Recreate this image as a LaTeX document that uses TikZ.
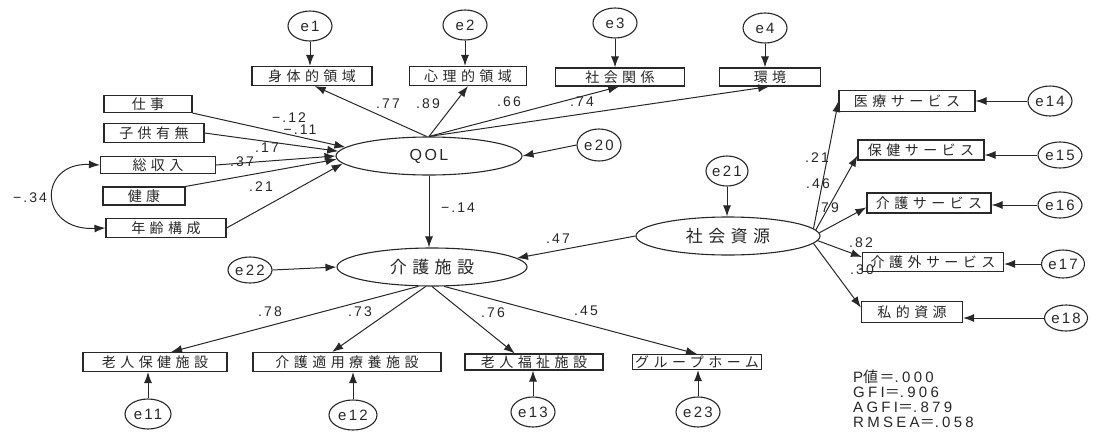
\documentclass[tikz,border=0pt]{standalone}
\usepackage{fontspec}
\setmainfont{Liberation Sans}[LetterSpace=15]
\newfontfamily\jp{Noto Sans CJK JP}[LetterSpace=32]
\newfontfamily\stfont{Liberation Sans}[LetterSpace=22]
\newfontfamily\jps{Noto Sans CJK JP}[LetterSpace=10]
\usetikzlibrary{shapes.geometric,arrows.meta}
\definecolor{ink}{RGB}{40,40,40}
\tikzset{
  box/.style={draw=ink, line width=1.1pt, minimum height=19pt, inner sep=0pt, text=ink,
    font=\jp\fontsize{14}{14}\selectfont},
  lat/.style={draw=ink, ellipse, line width=1.1pt, inner sep=0pt, text=ink},
  err/.style={draw=ink, ellipse, line width=1.1pt, minimum width=44pt, minimum height=30pt,
    inner sep=0pt, text=ink, font=\fontsize{15}{15}\selectfont},
  arr/.style={draw=ink, line width=1pt, -{Latex[length=11pt,width=8pt]}},
  dbl/.style={draw=ink, line width=1pt, {Latex[length=11pt,width=8pt]}-{Latex[length=11pt,width=8pt]}},
  lbl/.style={inner sep=0pt, text=ink, font=\fontsize{14}{14}\selectfont},
  stat/.style={inner sep=0pt, text=ink, anchor=north west, align=left,
    font=\stfont\fontsize{15}{15}\selectfont}
}
\begin{document}
\begin{tikzpicture}[x=1pt,y=-1pt]
\fill[white] (0,0) rectangle (1094,431);
\useasboundingbox (0,0) rectangle (1094,431);

% top indicators
\node[err] (e1) at (310,26) {e1};
\node[err] (e2) at (465,25) {e2};
\node[err] (e3) at (615,23) {e3};
\node[err] (e4) at (765,28) {e4};
\node[box, minimum width=120pt] (shintai) at (312,76) {身体的領域};
\node[box, minimum width=117pt] (shinri) at (468,76) {心理的領域};
\node[box, minimum width=129pt, minimum height=18pt] (kankei) at (620,77) {社会関係};
\node[box, minimum width=101pt, minimum height=18pt] (kankyo) at (770,77) {環境};

% left exogenous
\node[box, minimum width=88pt, minimum height=17pt] (shigoto) at (148,104) {仕事};
\node[box, minimum width=100pt] (kodomo) at (154,133) {子供有無};
\node[box, minimum width=115pt, minimum height=17pt] (soshu) at (158,165) {総収入};
\node[box, minimum width=82pt, minimum height=18pt] (kenko) at (144,196) {健康};
\node[box, minimum width=120pt] (nenrei) at (166,228) {年齢構成};

% latent
\node[lat, minimum width=186pt, minimum height=38pt, font=\fontsize{16}{16}\selectfont] (qol) at (429,156) {QOL};
\node[lat, minimum width=184pt, minimum height=38pt, font=\jp\fontsize{17}{17}\selectfont] (shakai) at (728,236) {社会資源};
\node[lat, minimum width=190pt, minimum height=38pt, font=\jp\fontsize{17}{17}\selectfont] (kaigo) at (432,267) {介護施設};
\node[err, minimum height=32pt] (e20) at (599,145) {e20};
\node[err, minimum width=42pt] (e21) at (727,171) {e21};
\node[err, minimum width=44pt, minimum height=26pt] (e22) at (250,270) {e22};

% bottom indicators
\node[box, minimum width=144pt] (rojin) at (155,362) {老人保健施設};
\node[box, minimum width=188pt] (tekiyo) at (347,362) {介護適用療養施設};
\node[box, minimum width=138pt, minimum height=16pt] (fukushi) at (534,362) {老人福祉施設};
\node[box, minimum width=129pt, minimum height=15pt] (group) at (697,362) {グループホーム};
\node[err, minimum width=46pt] (e11) at (148,414) {e11};
\node[err, minimum width=48pt] (e12) at (353,415) {e12};
\node[err, minimum width=44pt] (e13) at (533,412) {e13};
\node[err, minimum width=44pt] (e23) at (698,412) {e23};

% right indicators
\node[box, minimum width=136pt, minimum height=21pt] (iryo) at (907,101) {医療サービス};
\node[box, minimum width=126pt, minimum height=20pt] (hoken) at (921,150) {保健サービス};
\node[box, minimum width=124pt, minimum height=20pt] (kaigos) at (929,203) {介護サービス};
\node[box, minimum width=141pt, minimum height=19pt] (kaigogai) at (933,262) {介護外サービス};
\node[box, minimum width=101pt, minimum height=21pt] (shiteki) at (912,312) {私的資源};
\node[err] (e14) at (1050,101) {e14};
\node[err, minimum height=26pt] (e15) at (1060,155) {e15};
\node[err, minimum height=26pt] (e16) at (1060,205) {e16};
\node[err, minimum width=43pt, minimum height=28pt] (e17) at (1063,264) {e17};
\node[err, minimum width=43pt, minimum height=26pt] (e18) at (1066,318) {e18};

% error arrows
\draw[arr] (e1.south) -- (e1.south |- shintai.north);
\draw[arr] (e2.south) -- (e2.south |- shinri.north);
\draw[arr] (e3.south) -- (e3.south |- kankei.north);
\draw[arr] (e4.south) -- (e4.south |- kankyo.north);
\draw[arr] (e20.west) -- (qol.east);
\draw[arr] (e21.south) -- (e21.south |- shakai.north);
\draw[arr] (e22.east) -- (kaigo.west);
\draw[arr] (e11.north) -- (e11.north |- rojin.south);
\draw[arr] (e12.north) -- (e12.north |- tekiyo.south);
\draw[arr] (e13.north) -- (e13.north |- fukushi.south);
\draw[arr] (e23.north) -- (e23.north |- group.south);
\draw[arr] (e14.west) -- (e14.west -| iryo.east);
\draw[arr] (e15.west) -- (e15.west -| hoken.east);
\draw[arr] (e16.west) -- (e16.west -| kaigos.east);
\draw[arr] (e17.west) -- (e17.west -| kaigogai.east);
\draw[arr] (e18.west) -- (e18.west -| shiteki.east);

% QOL paths
\draw[arr] (shigoto.south east) -- (qol.174);
\draw[arr] (kodomo.east) -- (qol.177);
\draw[arr] (soshu.east) -- (qol.180);
\draw[arr] (kenko.north east) -- (qol.182);
\draw[arr] (nenrei.east) -- (qol.185);
\draw[dbl] (soshu.west) .. controls +(-62,-3) and +(-68,3) .. (nenrei.west);

\draw[arr] (qol.97) -- (shintai.-75);
\draw[arr] (qol.north) -- (shinri.south);
\draw[arr] (qol.north) -- (kankei.-95);
\draw[arr] (qol.north) -- (kankyo.-95);

\draw[arr] (qol.south) -- (qol.south |- kaigo.north);
\draw[arr] (shakai.west) -- (kaigo.6);

\draw[arr] (kaigo.235) -- (rojin.32);
\draw[arr] (kaigo.252) -- (tekiyo.146);
\draw[arr] (kaigo.south) -- (fukushi.156);
\draw[arr] (kaigo.302) -- (group.north);

\draw[arr] (shakai.5) -- (iryo.west);
\draw[arr] (shakai.4) -- (hoken.185);
\draw[arr] (shakai.2) -- (kaigos.184);
\draw[arr] (shakai.-3) -- (kaigogai.176);
\draw[arr] (shakai.-5) -- (shiteki.175);

% coefficient labels
\node[lbl] (l1) at (289,118) {−.12};
\node[lbl] (l2) at (300,130) {−.11};
\node[lbl] (l3) at (267,148) {.17};
\node[lbl] (l4) at (242,162) {.37};
\node[lbl] (l5) at (261,187) {.21};
\node[lbl] (l6) at (30,198) {−.34};
\node[lbl] (l7) at (388,104) {.77};
\node[lbl] (l8) at (428,104) {.89};
\node[lbl] (l9) at (509,102) {.66};
\node[lbl] (l10) at (582,102) {.74};
\node[lbl] (l11) at (458,208) {−.14};
\node[lbl] (l12) at (558,239) {.47};
\node[lbl] (l13) at (817,158) {.21};
\node[lbl] (l14) at (818,184) {.46};
\node[lbl] (l15) at (827,208) {.79};
\node[lbl] (l16) at (861,243) {.82};
\node[lbl] (l17) at (862,270) {.30};
\node[lbl] (l18) at (270,312) {.78};
\node[lbl] (l19) at (360,312) {.73};
\node[lbl] (l20) at (493,313) {.76};
\node[lbl] (l21) at (586,311) {.45};

% fit statistics
\node[stat] (stats) at (853,370) {P{\jps 値＝}.000\\GFI{\jps ＝}.906\\AGFI{\jps ＝}.879\\RMSEA{\jps ＝}.058};
\end{tikzpicture}
\end{document}
